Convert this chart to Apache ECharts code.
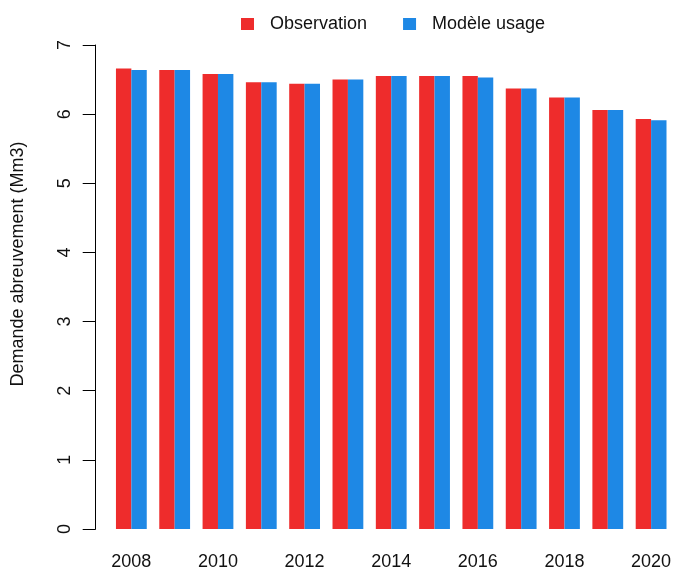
<!DOCTYPE html>
<html>
<head>
<meta charset="utf-8">
<script src="https://cdn.jsdelivr.net/npm/echarts@6/dist/echarts.min.js"></script>
<style>
html,body{margin:0;padding:0;background:#fff;}
#chart{width:674px;height:571px;}
</style>
</head>
<body>
<div id="chart"></div>
<script>
const years = ['2008','2009','2010','2011','2012','2013','2014','2015','2016','2017','2018','2019','2020'];
const observation = [6.66, 6.64, 6.58, 6.46, 6.44, 6.50, 6.55, 6.55, 6.55, 6.37, 6.24, 6.06, 5.93];
const modeleUsage = [6.64, 6.64, 6.58, 6.46, 6.44, 6.50, 6.55, 6.55, 6.53, 6.37, 6.24, 6.06, 5.91];
const yTicks = [0, 1, 2, 3, 4, 5, 6, 7];

const font = '"Liberation Sans", Arial, sans-serif';
const chart = echarts.init(document.getElementById('chart'), null, {renderer: 'canvas'});
chart.setOption({
  animation: false,
  backgroundColor: '#ffffff',
  textStyle: {fontFamily: font},
  legend: {
    left: 236, top: 10,
    icon: 'rect', itemWidth: 13, itemHeight: 12, itemGap: 36,
    textStyle: {fontSize: 18, color: '#111', fontFamily: font, padding: [0, 0, 0, 11]},
    data: ['Observation', 'Modèle usage']
  },
  grid: {left: 109.7, right: -2, top: 45, bottom: 41, containLabel: false},
  xAxis: {
    type: 'category',
    data: years,
    axisLine: {show: false},
    axisTick: {show: false},
    axisLabel: {interval: 1, fontSize: 18, color: '#111', margin: 24, fontFamily: font}
  },
  yAxis: {
    type: 'value',
    min: yTicks[0], max: yTicks[yTicks.length - 1], interval: 1,
    offset: 14,
    axisLine: {show: true, lineStyle: {color: '#000', width: 1}},
    axisTick: {show: true, length: 13, lineStyle: {color: '#000', width: 1}},
    splitLine: {show: false},
    axisLabel: {rotate: 90, fontSize: 18, color: '#111', margin: 22, fontFamily: font}
  },
  graphic: [{
    type: 'text',
    x: 18, y: 264,
    rotation: Math.PI / 2,
    style: {
      text: 'Demande abreuvement (Mm3)',
      fontSize: 18, fontFamily: font, fill: '#111',
      textAlign: 'center', textVerticalAlign: 'middle'
    }
  }],
  series: [
    {name: 'Observation', type: 'bar', data: observation, barWidth: 15.4, barGap: '0%',
     itemStyle: {color: '#EE2C2C'}},
    {name: 'Modèle usage', type: 'bar', data: modeleUsage, barWidth: 15.4, barGap: '0%',
     itemStyle: {color: '#1E88E5'}}
  ]
});
</script>
</body>
</html>
